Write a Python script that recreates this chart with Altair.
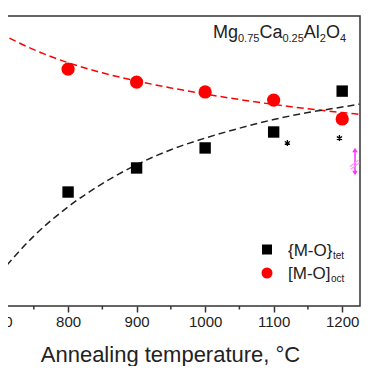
import altair as alt
import pandas as pd

# ---- data ----
temps = [700, 800, 900, 1000, 1100, 1200]
mo_tet = [8.3, 39.3, 47.6, 54.5, 60.0, 74.1]
mo_oct = [94.5, 81.7, 77.2, 73.8, 71.0, 64.5]

fit_temps = [700, 750, 800, 850, 900, 950, 1000, 1050, 1100, 1150, 1200, 1225]
tet_fit = [11.2, 24.1, 34.2, 42.2, 48.7, 53.9, 57.9, 61.3, 64.3, 66.7, 68.6, 69.6]
oct_fit = [94.1, 88.4, 83.9, 80.4, 77.6, 75.2, 73.1, 71.2, 69.5, 68.0, 66.7, 66.1]

major_ticks = [700, 800, 900, 1000, 1100, 1200]
minor_ticks = [750, 850, 950, 1050, 1150]
star_temps = [1120, 1196]
star_vals = [56.2, 57.9]

FONT = "Liberation Sans"
INK = "#222222"
W, H = 381, 290

pts = pd.DataFrame({"T": temps, "tet": mo_tet, "oct": mo_oct})
fit = pd.DataFrame({"T": fit_temps, "tet": tet_fit, "oct": oct_fit})
minor = pd.DataFrame({"T": minor_ticks})
stars = pd.DataFrame({"T": star_temps, "v": star_vals})
dummy = pd.DataFrame({"a": [0]})

xscale = alt.Scale(domain=[670, 1226], nice=False, zero=False)
yscale = alt.Scale(domain=[0, 100], nice=False, zero=False)
xaxis = alt.Axis(values=major_ticks, format="d", tickSize=6, tickWidth=1.5, tickColor="#333",
                 domain=False, grid=False, labelFont=FONT, labelFontSize=15, labelColor=INK,
                 labelFlush=False, labelOverlap=False, labelPadding=2, title=None)
X = alt.X("T:Q", scale=xscale, axis=xaxis)


def Y(f):
    return alt.Y(f"{f}:Q", scale=yscale, axis=None)


def txt(s, x, y, size, color=INK, align="left"):
    return alt.Chart(dummy).mark_text(text=s, font=FONT, fontSize=size, color=color,
                                      align=align, baseline="alphabetic").encode(
        x=alt.value(x), y=alt.value(y))


minor_layer = alt.Chart(minor).mark_rule(color="#333", strokeWidth=1.5).encode(
    x=X, y=alt.value(H), y2=alt.value(H + 3.5))

oct_line = alt.Chart(fit).mark_line(color="#ff0000", strokeDash=[7, 4], strokeWidth=1.5,
                                    interpolate="monotone").encode(x=X, y=Y("oct"))
tet_line = alt.Chart(fit).mark_line(color="#222222", strokeDash=[7, 4], strokeWidth=1.5,
                                    interpolate="monotone").encode(x=X, y=Y("tet"))
tet_pts = alt.Chart(pts).mark_point(shape="square", filled=True, size=130, color="#000000",
                                    opacity=1).encode(x=X, y=Y("tet"))
oct_pts = alt.Chart(pts).mark_point(shape="circle", filled=True, size=175, color="#ff0000",
                                    opacity=1).encode(x=X, y=Y("oct"))

ast = "M0,-1L0,1M-0.87,-0.5L0.87,0.5M-0.87,0.5L0.87,-0.5"
star_layer = alt.Chart(stars).mark_point(shape=ast, filled=False, size=36, stroke="#000",
                                         strokeWidth=1.3, opacity=1).encode(x=X, y=Y("v"))

MAG = "#ff33ff"
mag_rule = alt.Chart(dummy).mark_rule(color=MAG, strokeWidth=1.5).encode(
    x=alt.value(376), y=alt.value(133), y2=alt.value(158))
mag_up = alt.Chart(dummy).mark_point(shape="triangle-up", filled=True, size=30, color=MAG,
                                     opacity=1).encode(x=alt.value(376), y=alt.value(134))
mag_dn = alt.Chart(dummy).mark_point(shape="triangle-down", filled=True, size=30, color=MAG,
                                     opacity=1).encode(x=alt.value(376), y=alt.value(157))
mag_d1 = alt.Chart(dummy).mark_rule(color="#ff99ff", strokeWidth=1.2).encode(
    x=alt.value(371), x2=alt.value(379.3), y=alt.value(150.7), y2=alt.value(144))
mag_d2 = alt.Chart(dummy).mark_rule(color="#ff99ff", strokeWidth=1.2).encode(
    x=alt.value(371.7), x2=alt.value(380.3), y=alt.value(153.3), y2=alt.value(146.7))

leg_sq = alt.Chart(dummy).mark_point(shape="square", filled=True, size=100, color="#000",
                                     opacity=1).encode(x=alt.value(288), y=alt.value(233.5))
leg_ci = alt.Chart(dummy).mark_point(shape="circle", filled=True, size=121, color="#ff0000",
                                     opacity=1).encode(x=alt.value(288), y=alt.value(257))

texts = [
    txt("{M-O}", 309, 240, 17), txt("tet", 354, 243, 10),
    txt("[M-O]", 309, 263, 17), txt("oct", 352, 266, 10),
    txt("Mg", 234, 21.5, 18), txt("0.75", 259, 25.5, 11),
    txt("Ca", 280.4, 21.5, 18), txt("0.25", 303.4, 25.5, 11),
    txt("Al", 324.8, 21.5, 18), txt("2", 340.8, 25.5, 11),
    txt("O", 346.9, 21.5, 18), txt("4", 360.9, 25.5, 11),
    txt("Annealing temperature, °C", 191.5, 345.5, 22, align="center"),
]

chart = alt.layer(
    minor_layer, oct_line, tet_line, tet_pts, oct_pts, star_layer,
    mag_rule, mag_up, mag_dn, mag_d1, mag_d2, leg_sq, leg_ci, *texts
).properties(
    width=W, height=H,
    padding={"left": -29, "top": 8, "right": 2, "bottom": 60},
    autosize=alt.AutoSizeParams(type="none"),
    background="white",
).configure_view(stroke="#333", strokeWidth=1.5)

chart.save("out.html", embed_options={"renderer": "svg", "actions": False})
